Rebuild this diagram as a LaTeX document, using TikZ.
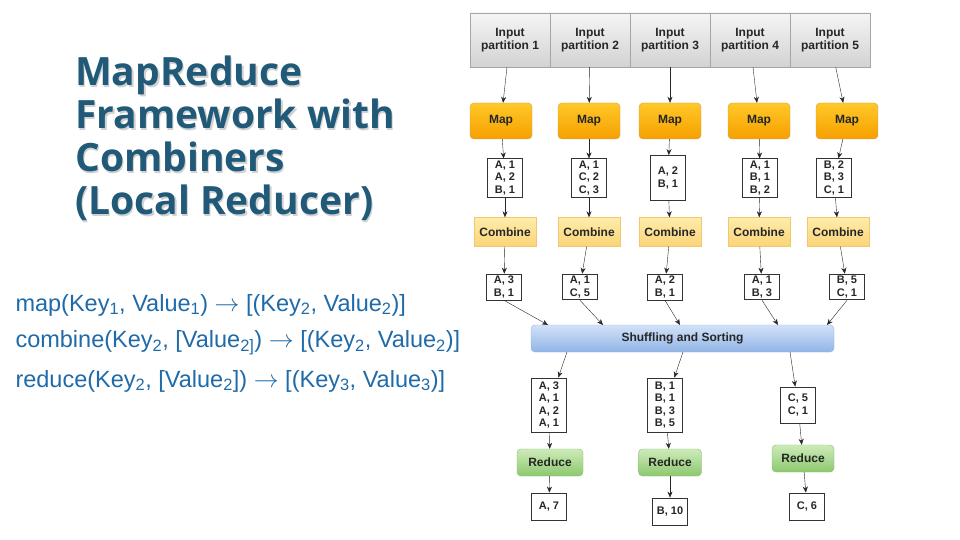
\documentclass[tikz,border=0pt]{standalone}
\usepackage{fontspec}
\setmainfont{Liberation Sans}
\newfontfamily\titlefont{Open Sans}
\usetikzlibrary{arrows.meta}
\definecolor{titlec}{HTML}{215A78}
\definecolor{bodyc}{HTML}{1F6AA8}
\begin{document}
\begin{tikzpicture}[x=1pt,y=-1pt,
  lbl/.style={font=\fontsize{12}{13}\selectfont\bfseries,text=black!85},
  inp/.style={lbl,draw=gray!70,minimum width=80pt,minimum height=54pt,inner sep=0pt,align=center,top color=gray!8,bottom color=gray!35},
  mapb/.style={lbl,draw=orange!70!black!60,rounded corners=4pt,minimum width=62pt,minimum height=36pt,top color={rgb,255:red,255;green,200;blue,40},bottom color={rgb,255:red,245;green,160;blue,0}},
  comb/.style={lbl,draw={rgb,255:red,240;green,200;blue,110},minimum width=62pt,minimum height=29pt,top color={rgb,255:red,254;green,236;blue,170},bottom color={rgb,255:red,251;green,212;blue,120}},
  kv/.style={lbl,font=\fontsize{11}{12.5}\selectfont\bfseries,draw=black!80,thick,fill=white,minimum width=35pt,inner sep=2pt,align=center},
  red/.style={lbl,draw={rgb,255:red,130;green,190;blue,110},rounded corners=4pt,minimum width=66pt,minimum height=27pt,top color={rgb,255:red,205;green,235;blue,185},bottom color={rgb,255:red,140;green,200;blue,110}},
  arr/.style={-{Stealth[length=6pt,width=5pt]},black!85},
  body/.style={anchor=west,text=bodyc,font=\fontsize{23.5}{26}\selectfont}
]
\useasboundingbox (0,0) rectangle (960,540);
% title
\node[anchor=north west,align=left,text=black!18,inner sep=0pt,font=\titlefont\fontsize{39}{43}\selectfont\bfseries] (tsh) at (76.5,57.5) {MapReduce\\Framework with\\Combiners\\(Local Reducer)};
\node[anchor=north west,align=left,text=titlec,inner sep=0pt,font=\titlefont\fontsize{39}{43}\selectfont\bfseries] (title) at (75,56) {MapReduce\\Framework with\\Combiners\\(Local Reducer)};
% body
\node[body] (l1) at (12,305) {map(Key\textsubscript{1}, Value\textsubscript{1}) $\rightarrow$ [(Key\textsubscript{2}, Value\textsubscript{2})]};
\node[body] (l2) at (12,343) {combine(Key\textsubscript{2}, [Value\textsubscript{2]}) $\rightarrow$ [(Key\textsubscript{2}, Value\textsubscript{2})]};
\node[body] (l3) at (12,381) {reduce(Key\textsubscript{2}, [Value\textsubscript{2}]) $\rightarrow$ [(Key\textsubscript{3}, Value\textsubscript{3})]};
% inputs
\foreach \i/\x in {1/510,2/590,3/670,4/750,5/830}{
  \node[inp] (in\i) at (\x,40) {Input\\partition \i};
}
\foreach \i/\x in {1/501,2/589,3/670,4/759,5/847}{
  \node[mapb] (m\i) at (\x,121) {Map};
}
\node[kv] (o1) at (505,178) {A, 1\\A, 2\\B, 1};
\node[kv] (o2) at (589,178) {A, 1\\C, 2\\C, 3};
\node[kv,minimum height=45pt] (o3) at (668,178) {A, 2\\B, 1};
\node[kv] (o4) at (760,178) {A, 1\\B, 1\\B, 2};
\node[kv] (o5) at (834,178) {B, 2\\B, 3\\C, 1};
\foreach \i/\x in {1/505,2/589,3/670,4/759,5/838}{
  \node[comb] (c\i) at (\x,232) {Combine};
}
\node[kv] (r1) at (504,287) {A, 3\\B, 1};
\node[kv] (r2) at (580,287) {A, 1\\C, 5};
\node[kv] (r3) at (665,287) {A, 2\\B, 1};
\node[kv] (r4) at (762,287) {A, 1\\B, 3};
\node[kv] (r5) at (847,287) {B, 5\\C, 1};
\foreach \i in {1,...,5}{
  \draw[arr] (in\i) -- (m\i);
  \draw[arr] (m\i) -- (o\i);
  \draw[arr] (o\i) -- (c\i);
  \draw[arr] (c\i) -- (r\i);
}
% shuffle
\node[lbl,draw={rgb,255:red,150;green,180;blue,225},rounded corners=4pt,minimum width=303pt,minimum height=27pt,top color={rgb,255:red,210;green,226;blue,248},bottom color={rgb,255:red,145;green,180;blue,230}] (sh) at (682.5,338.5) {Shuffling and Sorting};
\foreach \i/\x in {1/548,2/603,3/680,4/778,5/827}{
  \coordinate (s\i) at (\x,325);
  \draw[arr] (r\i.south) -- (s\i);
}
\coordinate (b1) at (567,352);
\coordinate (b2) at (683,352);
\coordinate (b3) at (790,352);
\node[kv,minimum height=54pt] (ka) at (549,405) {A, 3\\A, 1\\A, 2\\A, 1};
\node[kv,minimum height=54pt] (kb) at (665,405) {B, 1\\B, 1\\B, 3\\B, 5};
\node[kv,minimum height=36pt] (kc) at (798,405) {C, 5\\C, 1};
\draw[arr] (b1) -- (ka);
\draw[arr] (b2) -- (kb);
\draw[arr] (b3) -- (kc);
\node[red] (ra) at (550,462.5) {Reduce};
\node[red,minimum width=63pt] (rb) at (670,462.5) {Reduce};
\node[red,minimum width=62pt] (rc) at (803,458.5) {Reduce};
\node[kv,minimum height=27pt] (fa) at (549,506.5) {A, 7};
\node[kv,minimum height=27pt] (fb) at (670,511.5) {B, 10};
\node[kv,minimum height=27pt] (fc) at (807,506.5) {C, 6};
\draw[arr] (ka) -- (ra);
\draw[arr] (kb) -- (rb);
\draw[arr] (kc) -- (rc);
\draw[arr] (ra) -- (fa);
\draw[arr] (rb) -- (fb);
\draw[arr] (rc) -- (fc);
\end{tikzpicture}
\end{document}
